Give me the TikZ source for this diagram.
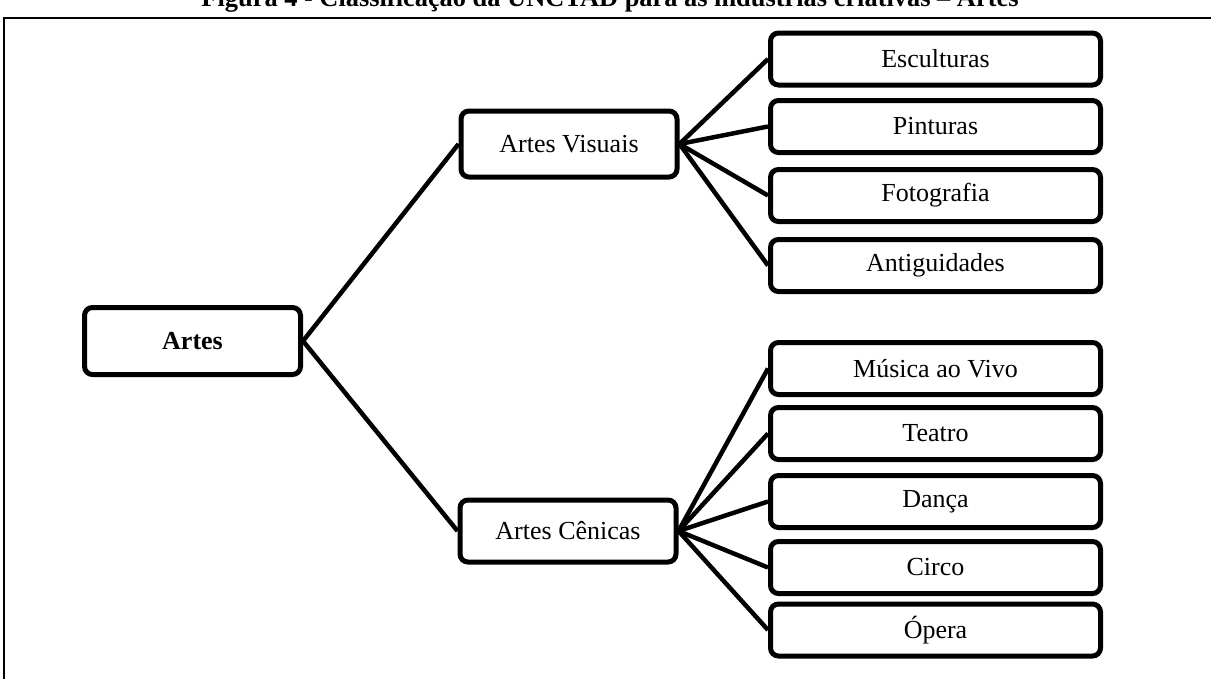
\documentclass[tikz,border=0pt]{standalone}
\usepackage{fontspec}
\setmainfont{Liberation Serif}
\begin{document}
\begin{tikzpicture}[x=1pt,y=-1pt,
  box/.style={draw, line width=5pt, rounded corners=8pt, inner sep=0pt,
    font=\fontsize{26}{30}\selectfont},
  sub/.style={box, minimum width=216pt, minimum height=66pt},
  leaf/.style={box, minimum width=330pt, minimum height=52pt},
  link/.style={line width=4.5pt}]
\useasboundingbox (0,0) rectangle (1211,678);
\clip (0,0) rectangle (1211,678);
\node[anchor=base, font=\bfseries\fontsize{26.4}{30}\selectfont] (title) at (610,6)
  {Figura 4 - Classificação da UNCTAD para as indústrias criativas – Artes};
\draw[line width=2.5pt] (4,720) -- (4,18) -- (1230,18);
\node[box, minimum width=216pt, minimum height=67pt, font=\bfseries\fontsize{26}{30}\selectfont] (artes) at (192.5,341) {Artes};
\node[sub] (vis) at (569,144) {Artes Visuais};
\node[sub, minimum height=62pt] (cen) at (568,531) {Artes Cênicas};
\node[leaf] (esc) at (935.5,59) {Esculturas};
\node[leaf] (pin) at (935.5,126.5) {Pinturas};
\node[leaf] (fot) at (935.5,195.5) {Fotografia};
\node[leaf] (ant) at (935.5,265.5) {Antiguidades};
\node[leaf] (mus) at (935.5,368.5) {Música ao Vivo};
\node[leaf] (tea) at (935.5,433.5) {Teatro};
\node[leaf] (dan) at (935.5,501.5) {Dança};
\node[leaf] (cir) at (935.5,567.5) {Circo};
\node[leaf] (ope) at (935.5,630) {Ópera};
\draw[link] (artes.east) -- (vis.west);
\draw[link] (artes.east) -- (cen.west);
\foreach \c in {esc,pin,fot,ant} \draw[link] (vis.east) -- (\c.west);
\foreach \c in {mus,tea,dan,cir,ope} \draw[link] (cen.east) -- (\c.west);
\end{tikzpicture}
\end{document}
